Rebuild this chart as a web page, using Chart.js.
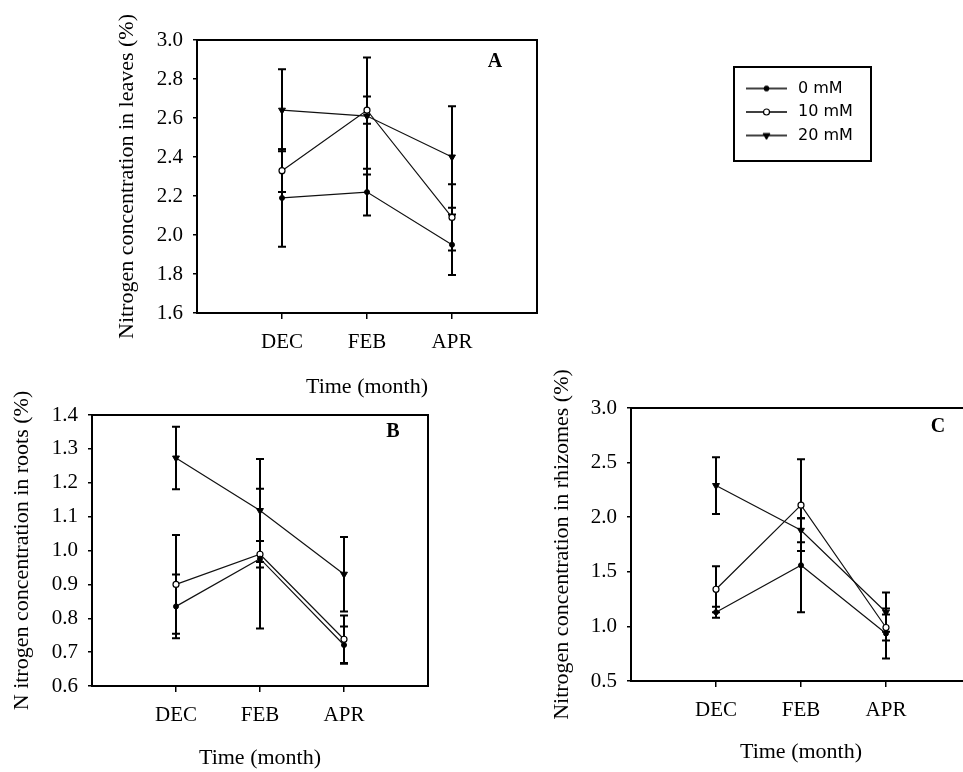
<!DOCTYPE html>
<html><head><meta charset="utf-8">
<script src="https://cdn.jsdelivr.net/npm/chart.js@4.4.1/dist/chart.umd.min.js"></script>
<style>
html,body{margin:0;padding:0;background:#fff;overflow:hidden;width:963px;height:772px;}
.wrap{position:absolute;left:0;top:0;}
</style></head><body>
<div class="wrap"><canvas id="cA" width="963" height="772"></canvas></div>
<div class="wrap"><canvas id="cB" width="963" height="772"></canvas></div>
<div class="wrap"><canvas id="cC" width="980" height="772"></canvas></div>
<div class="wrap" style="left:733px;top:66px"><canvas id="cL" width="139" height="96"></canvas></div>
<script>
// ---- data ----
const months = ['DEC', 'FEB', 'APR'];
const seriesNames = ['0 mM', '10 mM', '20 mM'];

// Panel A: leaves
const leaves0 = [2.19, 2.22, 1.95];
const leaves0Err = [0.25, 0.12, 0.155];
const leaves10 = [2.33, 2.64, 2.09];
const leaves10Err = [0.11, 0.07, 0.17];
const leaves20 = [2.64, 2.61, 2.40];
const leaves20Err = [0.21, 0.30, 0.26];
const leavesTicks = [1.6, 1.8, 2.0, 2.2, 2.4, 2.6, 2.8, 3.0];

// Panel B: roots
const roots0 = [0.835, 0.976, 0.721];
const roots0Err = [0.094, 0.206, 0.055];
const roots10 = [0.90, 0.989, 0.738];
const roots10Err = [0.146, 0.039, 0.07];
const roots20 = [1.273, 1.118, 0.93];
const roots20Err = [0.092, 0.152, 0.11];
const rootsTicks = [0.6, 0.7, 0.8, 0.9, 1.0, 1.1, 1.2, 1.3, 1.4];

// Panel C: rhizomes
const rhiz0 = [1.13, 1.56, 0.935];
const rhiz0Err = [0.05, 0.43, 0.23];
const rhiz10 = [1.34, 2.11, 0.99];
const rhiz10Err = [0.21, 0.42, 0.12];
const rhiz20 = [2.29, 1.88, 1.13];
const rhiz20Err = [0.26, 0.11, 0.18];
const rhizTicks = [0.5, 1.0, 1.5, 2.0, 2.5, 3.0];

// ---- styling ----
Chart.defaults.font.family = "'Liberation Serif', 'Times New Roman', serif";
Chart.defaults.color = '#000';
Chart.defaults.animation = false;

const markerStyles = [
  {pointStyle: 'circle', pointRadius: 2.5, pointBackgroundColor: '#000', pointBorderColor: '#000', pointBorderWidth: 1, pointRotation: 0},
  {pointStyle: 'circle', pointRadius: 3, pointBackgroundColor: '#fff', pointBorderColor: '#000', pointBorderWidth: 1.2, pointRotation: 0},
  {pointStyle: 'triangle', pointRadius: 4, pointBackgroundColor: '#000', pointBorderColor: '#000', pointBorderWidth: 1, pointRotation: 180}
];

function toPoints(vals) { return vals.map((v, i) => ({x: i + 1, y: v})); }

const panelPlugin = {
  id: 'panel',
  beforeDatasetsDraw(chart, args, opts) {
    const {ctx, scales: {x, y}} = chart;
    ctx.save();
    ctx.strokeStyle = '#000';
    ctx.lineWidth = 2;
    chart.data.datasets.forEach(ds => {
      (ds.errors || []).forEach((e, j) => {
        const pt = ds.data[j];
        const px = x.getPixelForValue(pt.x);
        const top = y.getPixelForValue(pt.y + e);
        const bot = y.getPixelForValue(pt.y - e);
        ctx.beginPath();
        ctx.moveTo(px, top); ctx.lineTo(px, bot);
        ctx.moveTo(px - 4, top); ctx.lineTo(px + 4, top);
        ctx.moveTo(px - 4, bot); ctx.lineTo(px + 4, bot);
        ctx.stroke();
      });
    });
    ctx.restore();
  },
  afterDraw(chart, args, opts) {
    const {ctx, chartArea: a} = chart;
    ctx.save();
    ctx.strokeStyle = '#000';
    ctx.lineWidth = 2;
    ctx.strokeRect(a.left, a.top, a.width, a.height);
    if (opts.letter) {
      ctx.font = "bold 20px 'Liberation Serif', serif";
      ctx.textAlign = 'center';
      ctx.textBaseline = 'middle';
      ctx.fillStyle = '#000';
      ctx.fillText(opts.letter, a.right - opts.letterDX, a.top + opts.letterDY);
    }
    ctx.restore();
  }
};

function makePanel(id, p) {
  return new Chart(document.getElementById(id), {
    type: 'line',
    data: {
      datasets: p.series.map((vals, i) => Object.assign({
        label: seriesNames[i],
        data: toPoints(vals),
        errors: p.errors[i],
        borderColor: '#111',
        borderWidth: 1.2,
        fill: false,
        tension: 0
      }, markerStyles[i]))
    },
    options: {
      responsive: false,
      animation: false,
      events: [],
      layout: {padding: p.padding},
      plugins: {
        legend: {display: false},
        tooltip: {enabled: false},
        panel: {letter: p.letter, letterDX: p.letterDX, letterDY: p.letterDY}
      },
      scales: {
        x: {
          type: 'linear', min: 0, max: 4,
          afterBuildTicks: s => { s.ticks = months.map((m, i) => ({value: i + 1})); },
          afterFit: s => { s.height = p.xH; },
          ticks: {callback: v => months[v - 1] || '', font: {size: 21}, padding: 10.5, color: '#000', maxRotation: 0, autoSkip: false},
          grid: {display: true, drawOnChartArea: false, drawTicks: true, tickLength: 6, color: '#000', lineWidth: 1.5},
          border: {display: false},
          title: {display: true, text: 'Time (month)', font: {size: 22}, padding: 0, color: '#000'}
        },
        y: {
          type: 'linear', min: p.yTicks[0], max: p.yTicks[p.yTicks.length - 1],
          afterBuildTicks: s => { s.ticks = p.yTicks.map(v => ({value: v})); },
          afterFit: s => { s.width = p.yW; },
          ticks: {callback: v => Number(v).toFixed(1), font: {size: 21}, padding: 10, color: '#000'},
          grid: {display: true, drawOnChartArea: false, drawTicks: true, tickLength: 4, color: '#000', lineWidth: 1.5},
          border: {display: false},
          title: {display: true, text: p.yTitle, font: {size: 22}, padding: 0, color: '#000'}
        }
      }
    },
    plugins: [panelPlugin]
  });
}

makePanel('cA', {
  series: [leaves0, leaves10, leaves20],
  errors: [leaves0Err, leaves10Err, leaves20Err],
  yTicks: leavesTicks,
  yTitle: 'Nitrogen concentration in leaves (%)',
  letter: 'A', letterDX: 42, letterDY: 22,
  padding: {left: 113.8, top: 40, right: 426, bottom: 371.8},
  yW: 83.2, xH: 87.2
});

makePanel('cB', {
  series: [roots0, roots10, roots20],
  errors: [roots0Err, roots10Err, roots20Err],
  yTicks: rootsTicks,
  yTitle: 'N itrogen concentration in roots (%)',
  letter: 'B', letterDX: 35, letterDY: 17,
  padding: {left: 8.8, top: 415, right: 535, bottom: 0.8},
  yW: 83.2, xH: 85.2
});

makePanel('cC', {
  series: [rhiz0, rhiz10, rhiz20],
  errors: [rhiz0Err, rhiz10Err, rhiz20Err],
  yTicks: rhizTicks,
  yTitle: 'Nitrogen concentration in rhizomes (%)',
  letter: 'C', letterDX: 33, letterDY: 19,
  padding: {left: 548.8, top: 408, right: 9, bottom: 6.8},
  yW: 82.2, xH: 84.2
});

// ---- legend ----
function makeIcon(i) {
  const c = document.createElement('canvas');
  c.width = 44; c.height = 10;
  const g = c.getContext('2d');
  g.strokeStyle = '#000';
  g.lineWidth = 1.3;
  g.beginPath(); g.moveTo(0, 5); g.lineTo(41, 5); g.stroke();
  const m = markerStyles[i];
  g.fillStyle = m.pointBackgroundColor;
  g.strokeStyle = m.pointBorderColor;
  g.lineWidth = m.pointBorderWidth;
  Chart.helpers.drawPoint(g, {pointStyle: m.pointStyle, radius: m.pointRadius, rotation: m.pointRotation, borderWidth: m.pointBorderWidth}, 20.5, 5);
  return c;
}
const legendIcons = seriesNames.map((n, i) => makeIcon(i));

const legendBoxPlugin = {
  id: 'legendBox',
  afterDraw(chart) {
    const ctx = chart.ctx;
    ctx.save();
    ctx.strokeStyle = '#000';
    ctx.lineWidth = 2;
    ctx.strokeRect(1, 1, chart.width - 2, chart.height - 2);
    ctx.restore();
  }
};

new Chart(document.getElementById('cL'), {
  type: 'line',
  data: {datasets: seriesNames.map((n, i) => ({label: n, data: [], pointStyle: legendIcons[i], borderColor: '#000', backgroundColor: '#000'}))},
  options: {
    responsive: false, animation: false, events: [],
    layout: {padding: {left: 5.5, top: 7, right: 0, bottom: 0}},
    scales: {x: {display: false}, y: {display: false}},
    plugins: {
      tooltip: {enabled: false},
      legend: {
        display: true, position: 'left', align: 'start', maxWidth: 133,
        labels: {usePointStyle: true, pointStyleWidth: 44, padding: 7.5, color: '#000', font: {family: "'DejaVu Sans', sans-serif", size: 16}}
      }
    }
  },
  plugins: [legendBoxPlugin]
});
</script>
</body></html>
